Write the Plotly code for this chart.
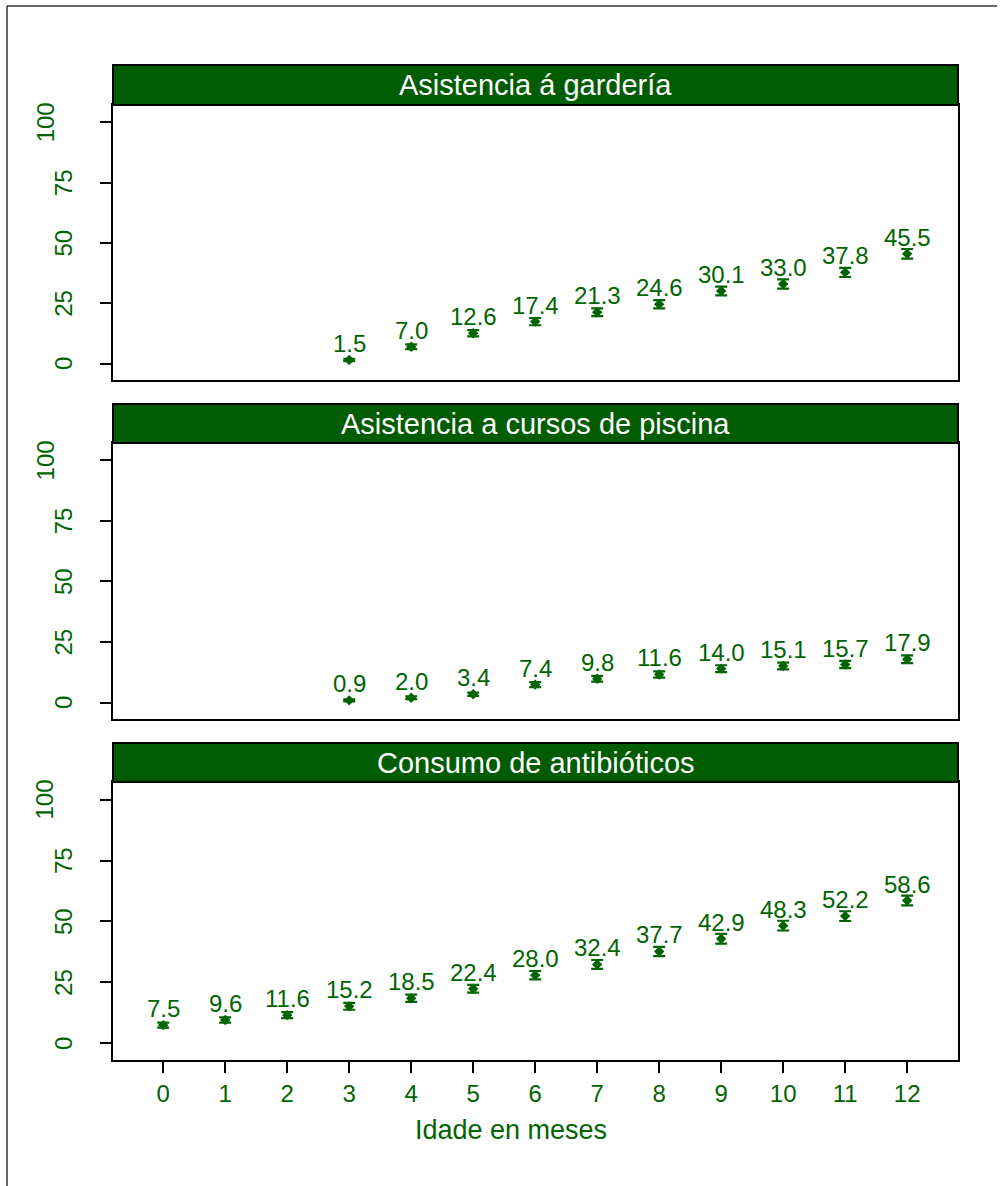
import plotly.graph_objects as go

# ---------------- data ----------------
months = list(range(13))
panel_titles = ["Asistencia á gardería", "Asistencia a cursos de piscina", "Consumo de antibióticos"]

gard_months = [3, 4, 5, 6, 7, 8, 9, 10, 11, 12]
gard_vals = [1.5, 7.0, 12.6, 17.4, 21.3, 24.6, 30.1, 33.0, 37.8, 45.5]
gard_err = [0.5, 1.0, 1.3, 1.5, 1.6, 1.7, 1.8, 1.9, 1.9, 2.0]

pisc_months = [3, 4, 5, 6, 7, 8, 9, 10, 11, 12]
pisc_vals = [0.9, 2.0, 3.4, 7.4, 9.8, 11.6, 14.0, 15.1, 15.7, 17.9]
pisc_err = [0.4, 0.6, 0.7, 1.0, 1.2, 1.3, 1.4, 1.4, 1.5, 1.6]

anti_months = [0, 1, 2, 3, 4, 5, 6, 7, 8, 9, 10, 11, 12]
anti_vals = [7.5, 9.6, 11.6, 15.2, 18.5, 22.4, 28.0, 32.4, 37.7, 42.9, 48.3, 52.2, 58.6]
anti_err = [1.0, 1.1, 1.2, 1.4, 1.5, 1.6, 1.7, 1.8, 1.9, 2.0, 2.0, 2.0, 2.0]

y_ticks = [0, 25, 50, 75, 100]
x_title = "Idade en meses"

# ---------------- layout helpers ----------------
W, H = 1004, 1186
GREEN = "#006400"
HEAD = "#005c00"
FONT = "Liberation Sans, Arial, sans-serif"

def px_x(p):
    return p / W

def px_y(p):
    return 1 - p / H

X0, X1 = 113, 958
# (header top, plot top, plot bottom) in pixels
panels = [(65, 105, 380), (404, 443, 719), (743, 782, 1060)]
series = [(gard_months, gard_vals, gard_err),
          (pisc_months, pisc_vals, pisc_err),
          (anti_months, anti_vals, anti_err)]

fig = go.Figure()
shapes = []
annotations = []

for i, ((ht, pt, pb), (mx, vals, errs), title) in enumerate(zip(panels, series, panel_titles)):
    n = i + 1
    xa = "x" if n == 1 else f"x{n}"
    ya = "y" if n == 1 else f"y{n}"
    fig.add_trace(go.Scatter(
        x=mx, y=vals, mode="markers", xaxis=xa, yaxis=ya,
        marker=dict(symbol="diamond", size=8, color=GREEN),
        error_y=dict(type="data", array=errs, visible=True, color=GREEN, thickness=2.2, width=6),
        showlegend=False, hoverinfo="skip",
    ))
    for m, v in zip(mx, vals):
        annotations.append(dict(
            x=m, y=v, xref=xa, yref=ya, text=f"{v:.1f}", showarrow=False,
            yanchor="bottom", xanchor="center", yshift=1,
            font=dict(family=FONT, size=24, color=GREEN),
        ))
    # y tick labels (rotated)
    for t in y_ticks:
        annotations.append(dict(
            x=px_x(45 if t == 100 else 63.5), y=t, xref="paper", yref=ya,
            text=str(t), showarrow=False, textangle=-90,
            xanchor="center", yanchor="middle",
            font=dict(family=FONT, size=24, color=GREEN),
        ))
    # header strip
    shapes.append(dict(type="rect", xref="paper", yref="paper",
                       x0=px_x(X0), x1=px_x(X1), y0=px_y(pt), y1=px_y(ht),
                       fillcolor=HEAD, line=dict(color="black", width=2), layer="above"))
    annotations.append(dict(
        x=px_x((X0 + X1) / 2), y=px_y((ht + pt) / 2), xref="paper", yref="paper",
        text=title, showarrow=False, xanchor="center", yanchor="middle",
        font=dict(family=FONT, size=29, color="white"),
    ))
    xaxis = dict(
        domain=[px_x(X0), px_x(X1)], range=[-0.81, 12.82], anchor=ya,
        showgrid=False, zeroline=False, showline=True, mirror=True,
        linecolor="black", linewidth=2,
        tickvals=months if n == 3 else [], ticktext=[str(m) for m in months] if n == 3 else [],
        ticks="outside" if n == 3 else "", ticklen=11, tickwidth=2, tickcolor="black",
        tickfont=dict(family=FONT, size=24, color=GREEN),
        showticklabels=(n == 3),
    )
    yaxis = dict(
        domain=[px_y(pb), px_y(pt)], range=[-6.8, 107.2], anchor=xa,
        showgrid=False, zeroline=False, showline=True, mirror=True,
        linecolor="black", linewidth=2,
        tickvals=y_ticks, ticks="outside", ticklen=11, tickwidth=2, tickcolor="black",
        showticklabels=False,
    )
    fig.layout[("xaxis" if n == 1 else f"xaxis{n}")] = xaxis
    fig.layout[("yaxis" if n == 1 else f"yaxis{n}")] = yaxis

# x axis title
annotations.append(dict(
    x=px_x(511), y=px_y(1130), xref="paper", yref="paper",
    text=x_title, showarrow=False, xanchor="center", yanchor="middle",
    font=dict(family=FONT, size=27, color=GREEN),
))

# outer frame (top and left edges visible)
shapes.append(dict(type="line", xref="paper", yref="paper",
                   x0=px_x(7), x1=px_x(997), y0=px_y(6), y1=px_y(6),
                   line=dict(color="#333333", width=1.5)))
shapes.append(dict(type="line", xref="paper", yref="paper",
                   x0=px_x(7), x1=px_x(7), y0=px_y(6), y1=0,
                   line=dict(color="#333333", width=1.5)))

fig.update_layout(
    width=W, height=H, autosize=False,
    margin=dict(l=0, r=0, t=0, b=0),
    paper_bgcolor="white", plot_bgcolor="white",
    shapes=shapes, annotations=annotations,
    font=dict(family=FONT, color=GREEN),
)

fig.write_html("out.html")
